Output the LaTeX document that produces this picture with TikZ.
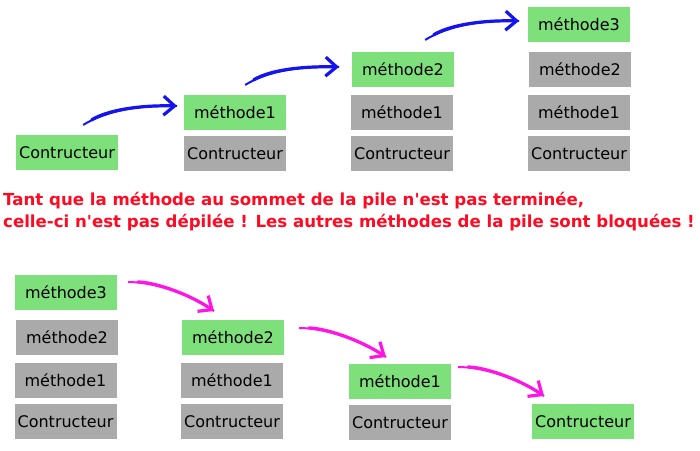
\documentclass[tikz,border=0pt]{standalone}
\usepackage{fontspec}
\setmainfont{DejaVu Sans}[Ligatures=TeXOff]
\usetikzlibrary{arrows.meta}
\definecolor{boxgreen}{HTML}{7DE07A}
\definecolor{boxgray}{HTML}{AAAAAA}
\definecolor{arrblue}{HTML}{1414F0}
\definecolor{arrmag}{HTML}{FF14E6}
\definecolor{txtred}{HTML}{FF0A23}
\tikzset{
  stackbox/.style={minimum width=102pt, minimum height=35pt, inner sep=0pt, font=\fontsize{16}{18}\selectfont},
  topbox/.style={stackbox, fill=boxgreen},
  lowbox/.style={stackbox, fill=boxgray},
  msgline/.style={anchor=base west, inner sep=0pt, text=txtred, font=\fontsize{16.6}{20}\selectfont\bfseries},
  curvearrow/.style={line width=3.2pt, line cap=round,
     -{Straight Barb[length=11pt, width=19pt, line width=3.2pt]},
     preaction={draw=#1, line width=1pt, arrows=-},
     draw=#1},
  bluearr/.style={curvearrow=arrblue, shorten <=16pt, preaction={draw=arrblue, line width=2pt, arrows=-, shorten <=6pt}},
  magarr/.style={curvearrow=arrmag, shorten <=16pt, preaction={draw=arrmag, line width=2pt, arrows=-, shorten <=6pt}},
}
\begin{document}
\begin{tikzpicture}[x=1pt, y=-1pt]
\useasboundingbox (0,0) rectangle (700,450);
% top stacks
\node[topbox] (t1c) at (67,152.5) {Contructeur};
\node[topbox] (t2m1) at (235,112.5) {méthode1};
\node[lowbox] (t2c) at (235,153.5) {Contructeur};
\node[topbox] (t3m2) at (403,69.5) {méthode2};
\node[lowbox] (t3m1) at (402,112.5) {méthode1};
\node[lowbox] (t3c) at (402,153.5) {Contructeur};
\node[topbox] (t4m3) at (579,24.5) {méthode3};
\node[lowbox] (t4m2) at (580,69.5) {méthode2};
\node[lowbox] (t4m1) at (579,112.5) {méthode1};
\node[lowbox] (t4c) at (579,153.5) {Contructeur};
% bottom stacks
\node[topbox] (b1m3) at (66,292.5) {méthode3};
\node[lowbox] (b1m2) at (67,337.5) {méthode2};
\node[lowbox] (b1m1) at (65.5,380.5) {méthode1};
\node[lowbox] (b1c) at (65.5,421.5) {Contructeur};
\node[topbox] (b2m2) at (233,337.5) {méthode2};
\node[lowbox] (b2m1) at (232,380.5) {méthode1};
\node[lowbox] (b2c) at (232,421.5) {Contructeur};
\node[topbox] (b3m1) at (400,381.5) {méthode1};
\node[lowbox] (b3c) at (400,422.5) {Contructeur};
\node[topbox] (b4c) at (583,421.5) {Contructeur};
% text
\node[msgline] (msg1) at (3,205) {Tant que la méthode au sommet de la pile n'est pas terminée,};
\node[msgline] (msg2) at (3,227.5) {celle-ci n'est pas dépilée ! Les autres méthodes de la pile sont bloquées !};
% blue arrows
\coordinate (u1s) at (78,128);  \coordinate (u1e) at (177,106);
\coordinate (u2s) at (240,88);  \coordinate (u2e) at (339,67);
\coordinate (u3s) at (420,43);  \coordinate (u3e) at (519,21);
\draw[bluearr] (u1s) .. controls (108,110) and (140,105) .. (u1e);
\draw[bluearr] (u2s) .. controls (270,70) and (302,66) .. (u2e);
\draw[bluearr] (u3s) .. controls (450,25) and (482,20) .. (u3e);
% magenta arrows
\coordinate (d1s) at (122,282); \coordinate (d1e) at (214,311);
\coordinate (d2s) at (293,328); \coordinate (d2e) at (386,357);
\coordinate (d3s) at (452,367); \coordinate (d3e) at (544,396);
\draw[magarr] (d1s) .. controls (152,282) and (186,292) .. (d1e);
\draw[magarr] (d2s) .. controls (323,328) and (357,338) .. (d2e);
\draw[magarr] (d3s) .. controls (482,367) and (516,377) .. (d3e);
\end{tikzpicture}
\end{document}
